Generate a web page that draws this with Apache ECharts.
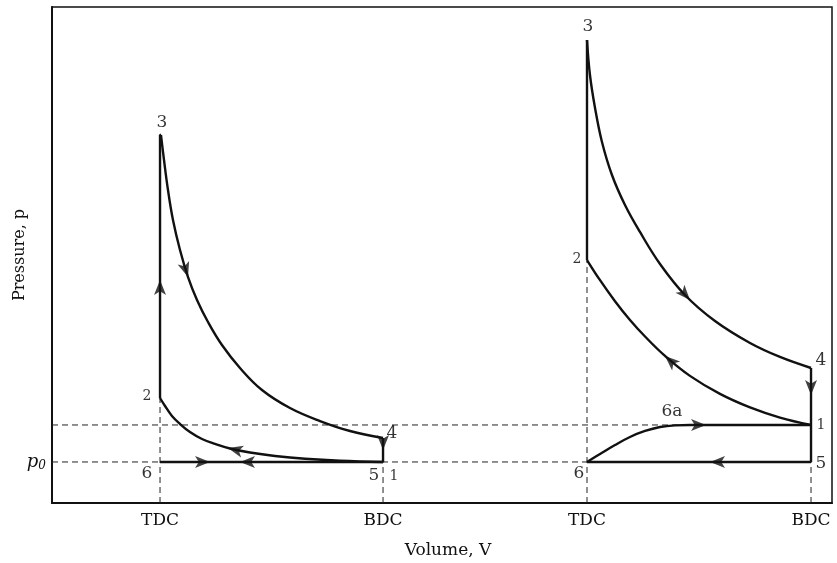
<!DOCTYPE html>
<html>
<head>
<meta charset="utf-8">
<script src="https://cdn.jsdelivr.net/npm/echarts@6/dist/echarts.min.js"></script>
<style>
  html, body { margin: 0; padding: 0; background: #fff; }
  #chart { width: 837px; height: 563px; }
</style>
</head>
<body>
<div id="chart"></div>
<script>
// volume / pressure in arbitrary units (0..100 on each axis)
var tickVals = [13.85, 42.44, 68.59, 97.31];
var tickLabels = ['TDC', 'BDC', 'TDC', 'BDC'];
var p0 = 8.27;
var pInlet = 15.73;

// left cycle
var leftCompression = [[13.85, 21.17], [14.49, 19.56], [15.38, 17.54], [16.41, 15.93], [17.69, 14.31],
    [19.23, 12.90], [20.90, 11.90], [22.82, 10.99], [25.38, 10.18], [28.59, 9.48], [32.44, 8.91],
    [36.92, 8.51], [42.44, 8.27]];
var leftExpansion = [[13.97, 74.19], [14.36, 69.15], [14.87, 63.10], [15.51, 57.06], [16.41, 51.01],
    [17.44, 45.56], [18.59, 40.93], [20.00, 36.49], [21.79, 31.85], [24.10, 27.22], [26.92, 22.78],
    [30.51, 19.15], [34.36, 16.53], [38.21, 14.52], [42.44, 13.10]];
var leftHeat = [[13.85, 21.17], [13.85, 74.19], [13.97, 74.19]];
var leftBlowdown = [[42.44, 13.10], [42.44, 8.27]];
var leftExhaust = [[42.44, 8.27], [13.85, 8.27]];

// right cycle
var rightExpansion = [[68.59, 93.35], [68.97, 86.29], [69.62, 79.64], [70.51, 72.78], [71.79, 66.13],
    [73.46, 60.08], [75.38, 54.64], [77.95, 48.19], [81.15, 41.94], [85.00, 36.69], [89.49, 32.26],
    [93.33, 29.44], [97.31, 27.22]];
var rightCompression = [[97.31, 15.73], [93.33, 17.22], [89.49, 19.27], [85.64, 22.00], [81.79, 25.63],
    [78.59, 29.66], [76.03, 33.57], [74.10, 36.90], [72.18, 40.69], [70.26, 44.92], [68.59, 48.99]];
var rightHeat = [[68.59, 48.99], [68.59, 93.35]];
var rightBlowdown = [[97.31, 27.22], [97.31, 15.73], [97.31, 8.27]];
var rightIntake = [[68.59, 8.27], [70.26, 9.88], [72.18, 11.69], [74.10, 13.31], [76.03, 14.52],
    [77.95, 15.32], [79.87, 15.66], [81.79, 15.73], [97.31, 15.73]];
var rightExhaust = [[97.31, 8.27], [68.59, 8.27]];

// arrows: x, y, rotation (deg, ccw from up)
var arrows = [[13.85, 44.96, 0], [17.44, 45.56, 198], [22.56, 11.09, 76], [20.26, 8.27, -90],
    [24.10, 8.27, 90], [42.44, 10.69, 180], [81.79, 40.93, 222], [78.59, 29.66, 48],
    [97.31, 21.77, 180], [83.85, 15.73, -90], [84.36, 8.27, 90]];

// dashed guide lines
var guides = [
    [[0, pInlet], [97.31, pInlet]],
    [[0, p0], [97.31, p0]],
    [[13.85, 0], [13.85, 74.19]],
    [[42.44, 0], [42.44, 8.27]],
    [[68.59, 0], [68.59, 93.35]],
    [[97.31, 0], [97.31, 8.27]]
];

// state point labels: x, y, text, font size
var points = [
    [14.10, 76.61, '3', 17], [12.18, 21.57, '2', 14], [43.59, 13.91, '4', 17],
    [41.28, 5.44, '5', 17], [43.85, 5.44, '1', 14], [12.18, 5.85, '6', 17],
    [68.72, 95.97, '3', 17], [67.31, 49.19, '2', 14], [98.59, 28.63, '4', 17],
    [98.59, 15.73, '1', 14], [98.59, 7.86, '5', 17], [67.56, 5.85, '6', 17],
    [79.49, 18.35, '6a', 17]
];

var font = 'DejaVu Serif';
var ink = '#111';

function curve(data, smooth) {
    return {
        type: 'line', data: data, smooth: smooth ? 0.4 : false,
        showSymbol: false, silent: true,
        lineStyle: { color: ink, width: 2.4 }, z: 3
    };
}

var series = [];
guides.forEach(function (g) {
    series.push({
        type: 'line', data: g, showSymbol: false, silent: true,
        lineStyle: { color: '#222', width: 1, type: [6, 4] }, z: 2
    });
});
[leftCompression, leftExpansion, rightExpansion, rightCompression, rightIntake].forEach(function (d) {
    series.push(curve(d, true));
});
[leftHeat, leftBlowdown, leftExhaust, rightHeat, rightBlowdown, rightExhaust].forEach(function (d) {
    series.push(curve(d, false));
});
series.push({
    type: 'scatter', data: arrows, symbol: 'arrow', symbolSize: [9, 15], silent: true,
    symbolRotate: function (v) { return v[2]; },
    itemStyle: { color: ink }, z: 4
});
series.push({
    type: 'scatter', silent: true, symbolSize: 0, z: 5,
    data: points.map(function (p) {
        return { value: [p[0], p[1]], label: { formatter: p[2], fontSize: p[3] } };
    }),
    label: { show: true, position: 'inside', color: '#000', fontFamily: font }
});

var option = {
    animation: false,
    backgroundColor: '#fff',
    grid: {
        left: 52, right: 5, top: 7, bottom: 60, containLabel: false, outerBoundsMode: 'none',
        show: true, borderColor: ink, borderWidth: 1.5
    },
    xAxis: {
        type: 'value', min: 0, max: 100,
        name: 'Volume, V', nameLocation: 'middle', nameGap: 39, nameMoveOverlap: false,
        nameTextStyle: { fontFamily: font, fontSize: 17, color: ink, padding: [0, 0, 0, 12] },
        axisLine: { lineStyle: { color: ink, width: 2 } },
        axisTick: { show: false },
        splitLine: { show: false },
        axisLabel: {
            customValues: tickVals, margin: 9, color: ink, fontFamily: font, fontSize: 17,
            formatter: function (v) { return tickLabels[tickVals.indexOf(v)]; }
        }
    },
    yAxis: {
        type: 'value', min: 0, max: 100,
        name: 'Pressure, p', nameLocation: 'middle', nameGap: 24, nameMoveOverlap: false,
        nameTextStyle: { fontFamily: font, fontSize: 16, color: ink },
        axisLine: { lineStyle: { color: ink, width: 2 } },
        axisTick: { show: false },
        splitLine: { show: false },
        axisLabel: {
            customValues: [p0], margin: 6, color: ink,
            formatter: function () { return '{p|p}{s|0}'; },
            rich: {
                p: { fontFamily: font, fontStyle: 'italic', fontSize: 18, color: ink },
                s: { fontFamily: font, fontStyle: 'italic', fontSize: 12, color: ink, padding: [8, 0, 0, 0] }
            }
        }
    },
    series: series
};

var myChart = echarts.init(document.getElementById('chart'));
myChart.setOption(option);
</script>
</body>
</html>
